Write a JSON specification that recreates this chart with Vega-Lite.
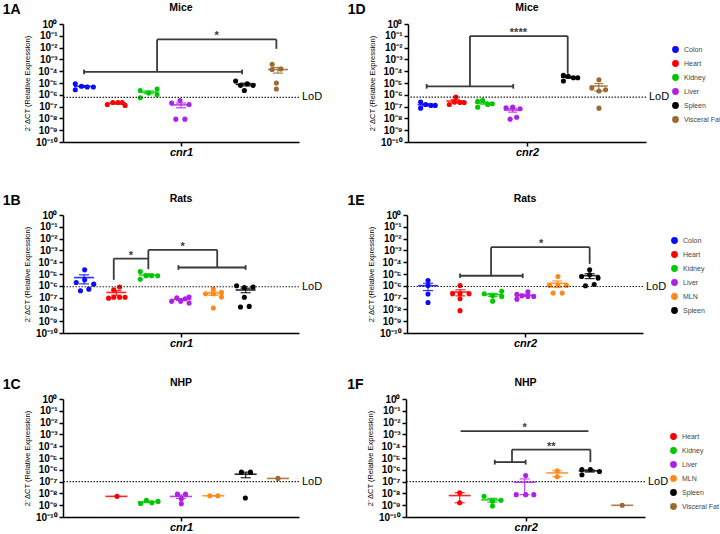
{
"$schema": "https://vega.github.io/schema/vega-lite/v6.json",
"background": "white",
"padding": {"left": 2, "top": 2, "right": 2, "bottom": 2},
"config": {
  "view": {"stroke": null},
  "font": "Liberation Sans",
  "axis": {"grid": false, "domainColor": "#000", "domainWidth": 1.5, "tickColor": "#000", "tickWidth": 1.5, "tickSize": 4, "labelColor": "#000", "labelFont": "Liberation Sans", "labelFontWeight": "bold", "labelFontSize": 10, "titleColor": "#000"},
  "axisX": {"labelPadding": 0},
  "axisY": {"titleFontSize": 7.5},
  "title": {"fontSize": 10.5, "fontWeight": "bold", "font": "Liberation Sans", "color": "#000", "offset": 6},
  "legend": {"labelFont": "Liberation Sans", "labelFontSize": 7, "rowPadding": 1}
},
"datasets": {
  "pts": [
    {"p":"A","t":"Colon","s":1,"x":0.73,"v":8.7e-6},
    {"p":"A","t":"Colon","s":1,"x":0.73,"v":2.7e-6},
    {"p":"A","t":"Colon","s":1,"x":0.92,"v":5.3e-6},
    {"p":"A","t":"Colon","s":1,"x":1.1,"v":4.6e-6},
    {"p":"A","t":"Colon","s":1,"x":1.29,"v":4.6e-6},
    {"p":"A","t":"Heart","s":2,"x":1.72,"v":1.51e-7},
    {"p":"A","t":"Heart","s":2,"x":1.89,"v":2.2e-7},
    {"p":"A","t":"Heart","s":2,"x":2.05,"v":2.2e-7},
    {"p":"A","t":"Heart","s":2,"x":2.18,"v":2.2e-7},
    {"p":"A","t":"Heart","s":2,"x":2.27,"v":1.26e-7},
    {"p":"A","t":"Kidney","s":3,"x":2.74,"v":2.3e-6},
    {"p":"A","t":"Kidney","s":3,"x":2.74,"v":5.6e-7},
    {"p":"A","t":"Kidney","s":3,"x":3.0,"v":1.4e-6},
    {"p":"A","t":"Kidney","s":3,"x":3.26,"v":3.1e-6},
    {"p":"A","t":"Kidney","s":3,"x":3.26,"v":1.07e-6},
    {"p":"A","t":"Liver","s":4,"x":3.71,"v":2.0e-7},
    {"p":"A","t":"Liver","s":4,"x":3.97,"v":3.3e-7},
    {"p":"A","t":"Liver","s":4,"x":4.25,"v":1.51e-7},
    {"p":"A","t":"Liver","s":4,"x":3.84,"v":8.6e-9},
    {"p":"A","t":"Liver","s":4,"x":4.12,"v":8.6e-9},
    {"p":"A","t":"Spleen","s":6,"x":5.69,"v":1.48e-5},
    {"p":"A","t":"Spleen","s":6,"x":5.84,"v":6.3e-6},
    {"p":"A","t":"Spleen","s":6,"x":6.05,"v":8.7e-6},
    {"p":"A","t":"Spleen","s":6,"x":6.23,"v":6.3e-6},
    {"p":"A","t":"Spleen","s":6,"x":5.96,"v":2.3e-6},
    {"p":"A","t":"Visceral Fat","s":7,"x":6.82,"v":3.89e-4},
    {"p":"A","t":"Visceral Fat","s":7,"x":6.82,"v":1.38e-4},
    {"p":"A","t":"Visceral Fat","s":7,"x":7.09,"v":1.55e-4},
    {"p":"A","t":"Visceral Fat","s":7,"x":6.95,"v":1.0e-5},
    {"p":"A","t":"Visceral Fat","s":7,"x":6.95,"v":3.1e-6},

    {"p":"D","t":"Colon","s":1,"x":0.79,"v":2.4e-7},
    {"p":"D","t":"Colon","s":1,"x":0.79,"v":7.4e-8},
    {"p":"D","t":"Colon","s":1,"x":0.97,"v":1.51e-7},
    {"p":"D","t":"Colon","s":1,"x":1.15,"v":1.26e-7},
    {"p":"D","t":"Colon","s":1,"x":1.3,"v":1.26e-7},
    {"p":"D","t":"Heart","s":2,"x":1.79,"v":1.51e-7},
    {"p":"D","t":"Heart","s":2,"x":1.97,"v":2.4e-7},
    {"p":"D","t":"Heart","s":2,"x":2.02,"v":6.5e-7},
    {"p":"D","t":"Heart","s":2,"x":2.16,"v":2.2e-7},
    {"p":"D","t":"Heart","s":2,"x":2.31,"v":2.2e-7},
    {"p":"D","t":"Kidney","s":3,"x":2.78,"v":2.75e-7},
    {"p":"D","t":"Kidney","s":3,"x":2.78,"v":9.0e-8},
    {"p":"D","t":"Kidney","s":3,"x":2.95,"v":3.5e-7},
    {"p":"D","t":"Kidney","s":3,"x":3.13,"v":1.51e-7},
    {"p":"D","t":"Kidney","s":3,"x":3.29,"v":1.74e-7},
    {"p":"D","t":"Liver","s":4,"x":3.77,"v":7.9e-8},
    {"p":"D","t":"Liver","s":4,"x":4.0,"v":9.0e-8},
    {"p":"D","t":"Liver","s":4,"x":4.26,"v":6.5e-8},
    {"p":"D","t":"Liver","s":4,"x":3.91,"v":8.6e-9},
    {"p":"D","t":"Liver","s":4,"x":4.14,"v":1.26e-8},
    {"p":"D","t":"Spleen","s":6,"x":5.77,"v":4.47e-5},
    {"p":"D","t":"Spleen","s":6,"x":5.77,"v":1.48e-5},
    {"p":"D","t":"Spleen","s":6,"x":5.94,"v":3.72e-5},
    {"p":"D","t":"Spleen","s":6,"x":6.12,"v":2.82e-5},
    {"p":"D","t":"Spleen","s":6,"x":6.27,"v":2.82e-5},
    {"p":"D","t":"Visceral Fat","s":7,"x":7.01,"v":1.91e-5},
    {"p":"D","t":"Visceral Fat","s":7,"x":6.76,"v":3.7e-6},
    {"p":"D","t":"Visceral Fat","s":7,"x":7.01,"v":2.1e-6},
    {"p":"D","t":"Visceral Fat","s":7,"x":7.24,"v":2.7e-6},
    {"p":"D","t":"Visceral Fat","s":7,"x":7.01,"v":7.4e-8},

    {"p":"B","t":"Colon","s":1,"x":1.02,"v":2.24e-5},
    {"p":"B","t":"Colon","s":1,"x":0.76,"v":1.9e-6},
    {"p":"B","t":"Colon","s":1,"x":1.02,"v":3.2e-6},
    {"p":"B","t":"Colon","s":1,"x":1.3,"v":1.38e-6},
    {"p":"B","t":"Colon","s":1,"x":0.89,"v":3.8e-7},
    {"p":"B","t":"Colon","s":1,"x":1.15,"v":5.2e-7},
    {"p":"B","t":"Heart","s":2,"x":1.92,"v":4.6e-7},
    {"p":"B","t":"Heart","s":2,"x":2.1,"v":7.8e-7},
    {"p":"B","t":"Heart","s":2,"x":1.76,"v":9.0e-8},
    {"p":"B","t":"Heart","s":2,"x":1.92,"v":1.07e-7},
    {"p":"B","t":"Heart","s":2,"x":2.1,"v":1.07e-7},
    {"p":"B","t":"Heart","s":2,"x":2.27,"v":1.07e-7},
    {"p":"B","t":"Kidney","s":3,"x":2.74,"v":1.62e-5},
    {"p":"B","t":"Kidney","s":3,"x":2.74,"v":3.6e-6},
    {"p":"B","t":"Kidney","s":3,"x":2.92,"v":7.1e-6},
    {"p":"B","t":"Kidney","s":3,"x":3.09,"v":7.1e-6},
    {"p":"B","t":"Kidney","s":3,"x":3.28,"v":7.1e-6},
    {"p":"B","t":"Liver","s":4,"x":3.71,"v":4.8e-8},
    {"p":"B","t":"Liver","s":4,"x":3.87,"v":9.8e-8},
    {"p":"B","t":"Liver","s":4,"x":3.99,"v":4.8e-8},
    {"p":"B","t":"Liver","s":4,"x":4.13,"v":7.9e-8},
    {"p":"B","t":"Liver","s":4,"x":4.25,"v":1.1e-7},
    {"p":"B","t":"Liver","s":4,"x":4.25,"v":3.5e-8},
    {"p":"B","t":"MLN","s":5,"x":5.0,"v":5.2e-7},
    {"p":"B","t":"MLN","s":5,"x":4.76,"v":2.1e-7},
    {"p":"B","t":"MLN","s":5,"x":5.0,"v":2.1e-7},
    {"p":"B","t":"MLN","s":5,"x":5.25,"v":2.75e-7},
    {"p":"B","t":"MLN","s":5,"x":5.25,"v":1.1e-7},
    {"p":"B","t":"MLN","s":5,"x":5.0,"v":1.3e-8},
    {"p":"B","t":"Spleen","s":6,"x":5.72,"v":1.0e-6},
    {"p":"B","t":"Spleen","s":6,"x":5.96,"v":7.2e-7},
    {"p":"B","t":"Spleen","s":6,"x":6.23,"v":7.8e-7},
    {"p":"B","t":"Spleen","s":6,"x":5.96,"v":1.07e-7},
    {"p":"B","t":"Spleen","s":6,"x":5.84,"v":1.6e-8},
    {"p":"B","t":"Spleen","s":6,"x":6.11,"v":1.8e-8},

    {"p":"E","t":"Colon","s":1,"x":1.0,"v":2.8e-6},
    {"p":"E","t":"Colon","s":1,"x":1.0,"v":1.07e-6},
    {"p":"E","t":"Colon","s":1,"x":1.0,"v":2.0e-7},
    {"p":"E","t":"Colon","s":1,"x":1.0,"v":3.9e-8},
    {"p":"E","t":"Heart","s":2,"x":1.99,"v":1.07e-6},
    {"p":"E","t":"Heart","s":2,"x":1.76,"v":2.1e-7},
    {"p":"E","t":"Heart","s":2,"x":1.99,"v":2.1e-7},
    {"p":"E","t":"Heart","s":2,"x":2.27,"v":2.1e-7},
    {"p":"E","t":"Heart","s":2,"x":1.99,"v":7.9e-8},
    {"p":"E","t":"Heart","s":2,"x":1.99,"v":7.8e-9},
    {"p":"E","t":"Kidney","s":3,"x":2.74,"v":2.1e-7},
    {"p":"E","t":"Kidney","s":3,"x":3.0,"v":1.41e-7},
    {"p":"E","t":"Kidney","s":3,"x":3.28,"v":3.5e-7},
    {"p":"E","t":"Kidney","s":3,"x":3.28,"v":1.26e-7},
    {"p":"E","t":"Kidney","s":3,"x":3.0,"v":5.0e-8},
    {"p":"E","t":"Liver","s":4,"x":3.75,"v":1.86e-7},
    {"p":"E","t":"Liver","s":4,"x":3.75,"v":7.4e-8},
    {"p":"E","t":"Liver","s":4,"x":3.9,"v":1.41e-7},
    {"p":"E","t":"Liver","s":4,"x":4.09,"v":3.1e-7},
    {"p":"E","t":"Liver","s":4,"x":4.09,"v":1.26e-7},
    {"p":"E","t":"Liver","s":4,"x":4.27,"v":1.26e-7},
    {"p":"E","t":"MLN","s":5,"x":5.02,"v":6.2e-6},
    {"p":"E","t":"MLN","s":5,"x":4.76,"v":1.07e-6},
    {"p":"E","t":"MLN","s":5,"x":5.02,"v":1.07e-6},
    {"p":"E","t":"MLN","s":5,"x":5.28,"v":1.07e-6},
    {"p":"E","t":"MLN","s":5,"x":4.87,"v":2.4e-7},
    {"p":"E","t":"MLN","s":5,"x":5.15,"v":2.4e-7},
    {"p":"E","t":"Spleen","s":6,"x":6.0,"v":2.24e-5},
    {"p":"E","t":"Spleen","s":6,"x":5.75,"v":6.2e-6},
    {"p":"E","t":"Spleen","s":6,"x":6.0,"v":8.5e-6},
    {"p":"E","t":"Spleen","s":6,"x":6.26,"v":4.5e-6},
    {"p":"E","t":"Spleen","s":6,"x":5.87,"v":1.0e-6},
    {"p":"E","t":"Spleen","s":6,"x":6.14,"v":1.29e-6},

    {"p":"C","t":"Heart","s":2,"x":2.02,"v":5.6e-9},
    {"p":"C","t":"Kidney","s":3,"x":2.75,"v":1.4e-9},
    {"p":"C","t":"Kidney","s":3,"x":2.93,"v":2.6e-9},
    {"p":"C","t":"Kidney","s":3,"x":3.1,"v":1.6e-9},
    {"p":"C","t":"Kidney","s":3,"x":3.29,"v":2.1e-9},
    {"p":"C","t":"Liver","s":4,"x":3.89,"v":8.6e-9},
    {"p":"C","t":"Liver","s":4,"x":4.14,"v":8.6e-9},
    {"p":"C","t":"Liver","s":4,"x":4.01,"v":3.5e-9},
    {"p":"C","t":"Liver","s":4,"x":4.01,"v":1.35e-9},
    {"p":"C","t":"MLN","s":5,"x":4.89,"v":6.3e-9},
    {"p":"C","t":"MLN","s":5,"x":5.14,"v":6.3e-9},
    {"p":"C","t":"Spleen","s":6,"x":5.87,"v":6.3e-7},
    {"p":"C","t":"Spleen","s":6,"x":6.15,"v":6.3e-7},
    {"p":"C","t":"Spleen","s":6,"x":5.99,"v":4.1e-9},
    {"p":"C","t":"Visceral Fat","s":7,"x":7.0,"v":1.86e-7},

    {"p":"F","t":"Heart","s":2,"x":2.0,"v":1.15e-8},
    {"p":"F","t":"Heart","s":2,"x":2.0,"v":1.6e-9},
    {"p":"F","t":"Kidney","s":3,"x":2.75,"v":5.6e-9},
    {"p":"F","t":"Kidney","s":3,"x":3.01,"v":2.2e-9},
    {"p":"F","t":"Kidney","s":3,"x":3.27,"v":2.6e-9},
    {"p":"F","t":"Kidney","s":3,"x":3.01,"v":8.5e-10},
    {"p":"F","t":"Liver","s":4,"x":4.03,"v":3.3e-7},
    {"p":"F","t":"Liver","s":4,"x":3.74,"v":7.8e-9},
    {"p":"F","t":"Liver","s":4,"x":4.03,"v":7.8e-9},
    {"p":"F","t":"Liver","s":4,"x":4.28,"v":7.8e-9},
    {"p":"F","t":"MLN","s":5,"x":5.0,"v":8.3e-7},
    {"p":"F","t":"MLN","s":5,"x":5.0,"v":2.6e-7},
    {"p":"F","t":"Spleen","s":6,"x":5.76,"v":1.07e-6},
    {"p":"F","t":"Spleen","s":6,"x":6.02,"v":1.07e-6},
    {"p":"F","t":"Spleen","s":6,"x":6.3,"v":7.2e-7},
    {"p":"F","t":"Spleen","s":6,"x":5.76,"v":3.8e-7},
    {"p":"F","t":"Visceral Fat","s":7,"x":7.0,"v":9.8e-10}
  ],
  "br": [
    {"p":"A","x":1.0,"x2":5.89,"y":8.7e-5,"y2":8.7e-5},
    {"p":"A","x":1.0,"x2":1.0,"y":1.38e-4,"y2":5.5e-5},
    {"p":"A","x":5.89,"x2":5.89,"y":1.38e-4,"y2":5.5e-5},
    {"p":"A","x":3.26,"x2":3.26,"y":8.7e-5,"y2":4.9e-2},
    {"p":"A","x":3.26,"x2":6.95,"y":4.9e-2,"y2":4.9e-2},
    {"p":"A","x":6.95,"x2":6.95,"y":4.9e-2,"y2":7.9e-3},
    {"p":"D","x":1.0,"x2":4.02,"y":5.2e-6,"y2":5.2e-6},
    {"p":"D","x":1.0,"x2":1.0,"y":8.3e-6,"y2":3.3e-6},
    {"p":"D","x":4.02,"x2":4.02,"y":8.3e-6,"y2":3.3e-6},
    {"p":"D","x":2.51,"x2":2.51,"y":5.2e-6,"y2":9.5e-2},
    {"p":"D","x":2.51,"x2":5.92,"y":9.5e-2,"y2":9.5e-2},
    {"p":"D","x":5.92,"x2":5.92,"y":9.5e-2,"y2":6.3e-5},
    {"p":"B","x":1.92,"x2":1.92,"y":3.2e-6,"y2":2.04e-4},
    {"p":"B","x":1.92,"x2":2.99,"y":2.04e-4,"y2":2.04e-4},
    {"p":"B","x":2.99,"x2":2.99,"y":1.1e-3,"y2":2.57e-5},
    {"p":"B","x":3.92,"x2":6.0,"y":3.55e-5,"y2":3.55e-5},
    {"p":"B","x":3.92,"x2":3.92,"y":5.6e-5,"y2":2.24e-5},
    {"p":"B","x":6.0,"x2":6.0,"y":5.6e-5,"y2":2.24e-5},
    {"p":"B","x":5.12,"x2":5.12,"y":3.55e-5,"y2":1.1e-3},
    {"p":"B","x":2.99,"x2":5.12,"y":1.1e-3,"y2":1.1e-3},
    {"p":"E","x":1.99,"x2":3.93,"y":7.1e-6,"y2":7.1e-6},
    {"p":"E","x":1.99,"x2":1.99,"y":1.12e-5,"y2":4.5e-6},
    {"p":"E","x":3.93,"x2":3.93,"y":1.12e-5,"y2":4.5e-6},
    {"p":"E","x":2.95,"x2":2.95,"y":7.1e-6,"y2":1.86e-3},
    {"p":"E","x":2.95,"x2":6.0,"y":1.86e-3,"y2":1.86e-3},
    {"p":"E","x":6.0,"x2":6.0,"y":1.86e-3,"y2":7.2e-5},
    {"p":"F","x":2.03,"x2":5.96,"y":1.86e-3,"y2":1.86e-3},
    {"p":"F","x":3.08,"x2":4.03,"y":4.5e-6,"y2":4.5e-6},
    {"p":"F","x":3.08,"x2":3.08,"y":7.1e-6,"y2":2.8e-6},
    {"p":"F","x":4.03,"x2":4.03,"y":7.1e-6,"y2":2.8e-6},
    {"p":"F","x":3.61,"x2":3.61,"y":4.5e-6,"y2":5.2e-5},
    {"p":"F","x":3.61,"x2":6.02,"y":5.2e-5,"y2":5.2e-5},
    {"p":"F","x":6.02,"x2":6.02,"y":5.2e-5,"y2":4.5e-6}
  ],
  "st": [
    {"p":"A","x":5.1,"y":4.9e-2,"lab":"*"},
    {"p":"D","x":4.2,"y":9.5e-2,"lab":"****"},
    {"p":"B","x":2.45,"y":2.04e-4,"lab":"*"},
    {"p":"B","x":4.05,"y":1.1e-3,"lab":"*"},
    {"p":"E","x":4.5,"y":1.86e-3,"lab":"*"},
    {"p":"F","x":4.0,"y":1.86e-3,"lab":"*"},
    {"p":"F","x":4.82,"y":5.2e-5,"lab":"**"}
  ],
  "lod": [
    {"p":"A","v":6.0e-7},
    {"p":"D","v":6.4e-7},
    {"p":"B","v":8.3e-7},
    {"p":"E","v":8.7e-7},
    {"p":"C","v":1.0e-7},
    {"p":"F","v":1.0e-7}
  ]
},
"resolve": {"scale": {"color": "independent"}, "legend": {"color": "independent"}},
"spacing": 36,
"vconcat": [
 {"hconcat": [
  {"title": {"text": "1A", "orient": "left", "angle": 0, "anchor": "end", "align": "left", "baseline": "top", "fontSize": 14, "offset": 3},
   "resolve": {"scale": {"color": "independent"}, "legend": {"color": "independent"}},
   "vconcat": [
    {"width": 236, "height": 118, "title": "Mice",
     "layer": [
      {"data": {"name": "pts"}, "transform": [{"filter": "datum.p=='A'"}],
       "mark": {"type": "circle", "size": 26, "opacity": 1},
       "encoding": {
        "x": {"field": "x", "type": "quantitative", "scale": {"domain": [0.35, 7.65], "nice": false, "zero": false},
              "axis": {"values": [4], "labelExpr": "'cnr1'", "title": null, "labelFontStyle": "italic", "labelFontSize": 11}},
        "y": {"field": "v", "type": "quantitative", "scale": {"type": "log", "domain": [1e-10, 1]},
              "axis": {"values": [1e-10,1e-9,1e-8,1e-7,1e-6,1e-5,1e-4,0.001,0.01,0.1,1], "labelOverlap": false,
                       "labelExpr": "'10' + (datum.value < 0.5 ? '⁻' : '') + ['⁰','¹','²','³','⁴','⁵','⁶','⁷','⁸','⁹','¹⁰'][round(-log(datum.value)/LN10)]",
                       "title": "2⁻ΔCT (Relative Expression)", "titleFontWeight": "normal", "titlePadding": 4}},
        "color": {"field": "t", "type": "nominal", "legend": null, "scale": {"domain": ["Colon","Heart","Kidney","Liver","Spleen","Visceral Fat"], "range": ["#0a0aff","#ff0000","#00c800","#b020e8","#000000","#9c6a2e"]}}}},
      {"data": {"name": "lod"}, "transform": [{"filter": "datum.p=='A'"}],
       "mark": {"type": "rule", "strokeDash": [1.5, 1.5], "strokeWidth": 1.2, "color": "#222"},
       "encoding": {"y": {"field": "v", "type": "quantitative", "scale": {"type": "log", "domain": [1e-10, 1]}}}},
      {"data": {"name": "lod"}, "transform": [{"filter": "datum.p=='A'"}],
       "mark": {"type": "text", "align": "left", "baseline": "middle", "dx": 3, "fontSize": 11, "text": "LoD", "color": "#000"},
       "encoding": {"x": {"datum": 7.65, "type": "quantitative", "scale": {"domain": [0.35, 7.65], "nice": false, "zero": false}},
                    "y": {"field": "v", "type": "quantitative", "scale": {"type": "log", "domain": [1e-10, 1]}}}},
      {"data": {"name": "br"}, "transform": [{"filter": "datum.p=='A'"}],
       "mark": {"type": "rule", "color": "#3a3a3a", "strokeWidth": 1.8},
       "encoding": {"x": {"field": "x", "type": "quantitative", "scale": {"domain": [0.35, 7.65], "nice": false, "zero": false}}, "x2": {"field": "x2"},
                    "y": {"field": "y", "type": "quantitative", "scale": {"type": "log", "domain": [1e-10, 1]}}, "y2": {"field": "y2"}}},
      {"data": {"name": "st"}, "transform": [{"filter": "datum.p=='A'"}],
       "mark": {"type": "text", "fontSize": 11, "fontWeight": "bold", "baseline": "alphabetic", "color": "#3a3a3a"},
       "encoding": {"x": {"field": "x", "type": "quantitative", "scale": {"domain": [0.35, 7.65], "nice": false, "zero": false}},
                    "y": {"field": "y", "type": "quantitative", "scale": {"type": "log", "domain": [1e-10, 1]}}, "text": {"field": "lab"}}},
      {"data": {"name": "pts"},
       "transform": [{"filter": "datum.p=='A'"}, {"aggregate": [{"op": "mean", "field": "v", "as": "m"}, {"op": "stderr", "field": "v", "as": "se"}], "groupby": ["t", "s"]},
                     {"calculate": "max(datum.m - datum.se, 1e-10)", "as": "lo"}, {"calculate": "datum.m + datum.se", "as": "hi"}],
       "encoding": {"x": {"field": "s", "type": "quantitative", "scale": {"domain": [0.35, 7.65], "nice": false, "zero": false}},
                    "color": {"field": "t", "type": "nominal", "legend": null, "scale": {"domain": ["Colon","Heart","Kidney","Liver","Spleen","Visceral Fat"], "range": ["#0a0aff","#ff0000","#00c800","#b020e8","#000000","#9c6a2e"]}}},
       "layer": [
        {"transform": [{"filter": "isValid(datum.se) && isFinite(datum.se)"}],
         "mark": {"type": "rule", "strokeWidth": 1.2, "opacity": 0.85},
         "encoding": {"y": {"field": "lo", "type": "quantitative", "scale": {"type": "log", "domain": [1e-10, 1]}}, "y2": {"field": "hi"}}},
        {"transform": [{"filter": "isValid(datum.se) && isFinite(datum.se)"}, {"fold": ["lo", "hi"], "as": ["k", "w"]}],
         "mark": {"type": "tick", "orient": "horizontal", "size": 10, "thickness": 1.2, "opacity": 0.85},
         "encoding": {"y": {"field": "w", "type": "quantitative", "scale": {"type": "log", "domain": [1e-10, 1]}}}},
        {"mark": {"type": "tick", "orient": "horizontal", "size": 20, "thickness": 1.6, "opacity": 0.85},
         "encoding": {"y": {"field": "m", "type": "quantitative", "scale": {"type": "log", "domain": [1e-10, 1]}}}}
       ]}
     ]}
   ]},
  {"title": {"text": "1D", "orient": "left", "angle": 0, "anchor": "end", "align": "left", "baseline": "top", "fontSize": 14, "offset": 3},
   "resolve": {"scale": {"color": "independent"}, "legend": {"color": "independent"}},
   "vconcat": [
    {"width": 238, "height": 118, "title": "Mice",
     "layer": [
      {"data": {"name": "pts"}, "transform": [{"filter": "datum.p=='D'"}],
       "mark": {"type": "circle", "size": 26, "opacity": 1},
       "encoding": {
        "x": {"field": "x", "type": "quantitative", "scale": {"domain": [0.35, 8.65], "nice": false, "zero": false},
              "axis": {"values": [4.5], "labelExpr": "'cnr2'", "title": null, "labelFontStyle": "italic", "labelFontSize": 11}},
        "y": {"field": "v", "type": "quantitative", "scale": {"type": "log", "domain": [1e-10, 1]},
              "axis": {"values": [1e-10,1e-9,1e-8,1e-7,1e-6,1e-5,1e-4,0.001,0.01,0.1,1], "labelOverlap": false,
                       "labelExpr": "'10' + (datum.value < 0.5 ? '⁻' : '') + ['⁰','¹','²','³','⁴','⁵','⁶','⁷','⁸','⁹','¹⁰'][round(-log(datum.value)/LN10)]",
                       "title": "2⁻ΔCT (Relative Expression)", "titleFontWeight": "normal", "titlePadding": 4}},
        "color": {"field": "t", "type": "nominal",
                  "legend": {"orient": "none", "legendX": 264, "legendY": 22, "title": null, "symbolType": "circle", "symbolSize": 28, "labelColor": "#444", "labelFontWeight": "normal", "padding": 0, "labelOffset": 5},
                  "scale": {"domain": ["Colon","Heart","Kidney","Liver","Spleen","Visceral Fat"], "range": ["#0a0aff","#ff0000","#00c800","#b020e8","#000000","#9c6a2e"]}}}},
      {"data": {"name": "lod"}, "transform": [{"filter": "datum.p=='D'"}],
       "mark": {"type": "rule", "strokeDash": [1.5, 1.5], "strokeWidth": 1.2, "color": "#222"},
       "encoding": {"y": {"field": "v", "type": "quantitative", "scale": {"type": "log", "domain": [1e-10, 1]}}}},
      {"data": {"name": "lod"}, "transform": [{"filter": "datum.p=='D'"}],
       "mark": {"type": "text", "align": "left", "baseline": "middle", "dx": 3, "fontSize": 11, "text": "LoD", "color": "#000"},
       "encoding": {"x": {"datum": 8.65, "type": "quantitative", "scale": {"domain": [0.35, 8.65], "nice": false, "zero": false}},
                    "y": {"field": "v", "type": "quantitative", "scale": {"type": "log", "domain": [1e-10, 1]}}}},
      {"data": {"name": "br"}, "transform": [{"filter": "datum.p=='D'"}],
       "mark": {"type": "rule", "color": "#3a3a3a", "strokeWidth": 1.8},
       "encoding": {"x": {"field": "x", "type": "quantitative", "scale": {"domain": [0.35, 8.65], "nice": false, "zero": false}}, "x2": {"field": "x2"},
                    "y": {"field": "y", "type": "quantitative", "scale": {"type": "log", "domain": [1e-10, 1]}}, "y2": {"field": "y2"}}},
      {"data": {"name": "st"}, "transform": [{"filter": "datum.p=='D'"}],
       "mark": {"type": "text", "fontSize": 11, "fontWeight": "bold", "baseline": "alphabetic", "color": "#3a3a3a"},
       "encoding": {"x": {"field": "x", "type": "quantitative", "scale": {"domain": [0.35, 8.65], "nice": false, "zero": false}},
                    "y": {"field": "y", "type": "quantitative", "scale": {"type": "log", "domain": [1e-10, 1]}}, "text": {"field": "lab"}}},
      {"data": {"name": "pts"},
       "transform": [{"filter": "datum.p=='D'"}, {"aggregate": [{"op": "mean", "field": "v", "as": "m"}, {"op": "stderr", "field": "v", "as": "se"}], "groupby": ["t", "s"]},
                     {"calculate": "max(datum.m - datum.se, 1e-10)", "as": "lo"}, {"calculate": "datum.m + datum.se", "as": "hi"}],
       "encoding": {"x": {"field": "s", "type": "quantitative", "scale": {"domain": [0.35, 8.65], "nice": false, "zero": false}},
                    "color": {"field": "t", "type": "nominal", "scale": {"domain": ["Colon","Heart","Kidney","Liver","Spleen","Visceral Fat"], "range": ["#0a0aff","#ff0000","#00c800","#b020e8","#000000","#9c6a2e"]}}},
       "layer": [
        {"transform": [{"filter": "isValid(datum.se) && isFinite(datum.se)"}],
         "mark": {"type": "rule", "strokeWidth": 1.2, "opacity": 0.85},
         "encoding": {"y": {"field": "lo", "type": "quantitative", "scale": {"type": "log", "domain": [1e-10, 1]}}, "y2": {"field": "hi"}}},
        {"transform": [{"filter": "isValid(datum.se) && isFinite(datum.se)"}, {"fold": ["lo", "hi"], "as": ["k", "w"]}],
         "mark": {"type": "tick", "orient": "horizontal", "size": 9, "thickness": 1.2, "opacity": 0.85},
         "encoding": {"y": {"field": "w", "type": "quantitative", "scale": {"type": "log", "domain": [1e-10, 1]}}}},
        {"mark": {"type": "tick", "orient": "horizontal", "size": 18, "thickness": 1.6, "opacity": 0.85},
         "encoding": {"y": {"field": "m", "type": "quantitative", "scale": {"type": "log", "domain": [1e-10, 1]}}}}
       ]}
     ]}
   ]}
 ], "spacing": 24, "resolve": {"scale": {"color": "independent"}, "legend": {"color": "independent"}}},
 {"vconcat": [
  {"hconcat": [
   {"title": {"text": "1B", "orient": "left", "angle": 0, "anchor": "end", "align": "left", "baseline": "top", "fontSize": 14, "offset": 3},
    "resolve": {"scale": {"color": "independent"}, "legend": {"color": "independent"}},
    "vconcat": [
     {"width": 236, "height": 118, "title": "Rats",
      "layer": [
       {"data": {"name": "pts"}, "transform": [{"filter": "datum.p=='B'"}],
        "mark": {"type": "circle", "size": 26, "opacity": 1},
        "encoding": {
         "x": {"field": "x", "type": "quantitative", "scale": {"domain": [0.35, 7.65], "nice": false, "zero": false},
               "axis": {"values": [4], "labelExpr": "'cnr1'", "title": null, "labelFontStyle": "italic", "labelFontSize": 11}},
         "y": {"field": "v", "type": "quantitative", "scale": {"type": "log", "domain": [1e-10, 1]},
               "axis": {"values": [1e-10,1e-9,1e-8,1e-7,1e-6,1e-5,1e-4,0.001,0.01,0.1,1], "labelOverlap": false,
                        "labelExpr": "'10' + (datum.value < 0.5 ? '⁻' : '') + ['⁰','¹','²','³','⁴','⁵','⁶','⁷','⁸','⁹','¹⁰'][round(-log(datum.value)/LN10)]",
                        "title": "2⁻ΔCT (Relative Expression)", "titleFontWeight": "normal", "titlePadding": 4}},
         "color": {"field": "t", "type": "nominal", "legend": null, "scale": {"domain": ["Colon","Heart","Kidney","Liver","MLN","Spleen"], "range": ["#0a0aff","#ff0000","#00c800","#b020e8","#ff8a1a","#000000"]}}}},
       {"data": {"name": "lod"}, "transform": [{"filter": "datum.p=='B'"}],
        "mark": {"type": "rule", "strokeDash": [1.5, 1.5], "strokeWidth": 1.2, "color": "#222"},
        "encoding": {"y": {"field": "v", "type": "quantitative", "scale": {"type": "log", "domain": [1e-10, 1]}}}},
       {"data": {"name": "lod"}, "transform": [{"filter": "datum.p=='B'"}],
        "mark": {"type": "text", "align": "left", "baseline": "middle", "dx": 3, "fontSize": 11, "text": "LoD", "color": "#000"},
        "encoding": {"x": {"datum": 7.65, "type": "quantitative", "scale": {"domain": [0.35, 7.65], "nice": false, "zero": false}},
                     "y": {"field": "v", "type": "quantitative", "scale": {"type": "log", "domain": [1e-10, 1]}}}},
       {"data": {"name": "br"}, "transform": [{"filter": "datum.p=='B'"}],
        "mark": {"type": "rule", "color": "#3a3a3a", "strokeWidth": 1.8},
        "encoding": {"x": {"field": "x", "type": "quantitative", "scale": {"domain": [0.35, 7.65], "nice": false, "zero": false}}, "x2": {"field": "x2"},
                     "y": {"field": "y", "type": "quantitative", "scale": {"type": "log", "domain": [1e-10, 1]}}, "y2": {"field": "y2"}}},
       {"data": {"name": "st"}, "transform": [{"filter": "datum.p=='B'"}],
        "mark": {"type": "text", "fontSize": 11, "fontWeight": "bold", "baseline": "alphabetic", "color": "#3a3a3a"},
        "encoding": {"x": {"field": "x", "type": "quantitative", "scale": {"domain": [0.35, 7.65], "nice": false, "zero": false}},
                     "y": {"field": "y", "type": "quantitative", "scale": {"type": "log", "domain": [1e-10, 1]}}, "text": {"field": "lab"}}},
       {"data": {"name": "pts"},
        "transform": [{"filter": "datum.p=='B'"}, {"aggregate": [{"op": "mean", "field": "v", "as": "m"}, {"op": "stderr", "field": "v", "as": "se"}], "groupby": ["t", "s"]},
                      {"calculate": "max(datum.m - datum.se, 1e-10)", "as": "lo"}, {"calculate": "datum.m + datum.se", "as": "hi"}],
        "encoding": {"x": {"field": "s", "type": "quantitative", "scale": {"domain": [0.35, 7.65], "nice": false, "zero": false}},
                     "color": {"field": "t", "type": "nominal", "legend": null, "scale": {"domain": ["Colon","Heart","Kidney","Liver","MLN","Spleen"], "range": ["#0a0aff","#ff0000","#00c800","#b020e8","#ff8a1a","#000000"]}}},
        "layer": [
         {"transform": [{"filter": "isValid(datum.se) && isFinite(datum.se)"}],
          "mark": {"type": "rule", "strokeWidth": 1.2, "opacity": 0.85},
          "encoding": {"y": {"field": "lo", "type": "quantitative", "scale": {"type": "log", "domain": [1e-10, 1]}}, "y2": {"field": "hi"}}},
         {"transform": [{"filter": "isValid(datum.se) && isFinite(datum.se)"}, {"fold": ["lo", "hi"], "as": ["k", "w"]}],
          "mark": {"type": "tick", "orient": "horizontal", "size": 10, "thickness": 1.2, "opacity": 0.85},
          "encoding": {"y": {"field": "w", "type": "quantitative", "scale": {"type": "log", "domain": [1e-10, 1]}}}},
         {"mark": {"type": "tick", "orient": "horizontal", "size": 20, "thickness": 1.6, "opacity": 0.85},
          "encoding": {"y": {"field": "m", "type": "quantitative", "scale": {"type": "log", "domain": [1e-10, 1]}}}}
        ]}
      ]}
    ]},
   {"title": {"text": "1E", "orient": "left", "angle": 0, "anchor": "end", "align": "left", "baseline": "top", "fontSize": 14, "offset": 3},
    "resolve": {"scale": {"color": "independent"}, "legend": {"color": "independent"}},
    "vconcat": [
     {"width": 236, "height": 118, "title": "Rats",
      "layer": [
       {"data": {"name": "pts"}, "transform": [{"filter": "datum.p=='E'"}],
        "mark": {"type": "circle", "size": 26, "opacity": 1},
        "encoding": {
         "x": {"field": "x", "type": "quantitative", "scale": {"domain": [0.35, 7.65], "nice": false, "zero": false},
               "axis": {"values": [4], "labelExpr": "'cnr2'", "title": null, "labelFontStyle": "italic", "labelFontSize": 11}},
         "y": {"field": "v", "type": "quantitative", "scale": {"type": "log", "domain": [1e-10, 1]},
               "axis": {"values": [1e-10,1e-9,1e-8,1e-7,1e-6,1e-5,1e-4,0.001,0.01,0.1,1], "labelOverlap": false,
                        "labelExpr": "'10' + (datum.value < 0.5 ? '⁻' : '') + ['⁰','¹','²','³','⁴','⁵','⁶','⁷','⁸','⁹','¹⁰'][round(-log(datum.value)/LN10)]",
                        "title": "2⁻ΔCT (Relative Expression)", "titleFontWeight": "normal", "titlePadding": 4}},
         "color": {"field": "t", "type": "nominal",
                   "legend": {"orient": "none", "legendX": 264, "legendY": 22, "title": null, "symbolType": "circle", "symbolSize": 28, "labelColor": "#444", "labelFontWeight": "normal", "padding": 0, "labelOffset": 5},
                   "scale": {"domain": ["Colon","Heart","Kidney","Liver","MLN","Spleen"], "range": ["#0a0aff","#ff0000","#00c800","#b020e8","#ff8a1a","#000000"]}}}},
       {"data": {"name": "lod"}, "transform": [{"filter": "datum.p=='E'"}],
        "mark": {"type": "rule", "strokeDash": [1.5, 1.5], "strokeWidth": 1.2, "color": "#222"},
        "encoding": {"y": {"field": "v", "type": "quantitative", "scale": {"type": "log", "domain": [1e-10, 1]}}}},
       {"data": {"name": "lod"}, "transform": [{"filter": "datum.p=='E'"}],
        "mark": {"type": "text", "align": "left", "baseline": "middle", "dx": 3, "fontSize": 11, "text": "LoD", "color": "#000"},
        "encoding": {"x": {"datum": 7.65, "type": "quantitative", "scale": {"domain": [0.35, 7.65], "nice": false, "zero": false}},
                     "y": {"field": "v", "type": "quantitative", "scale": {"type": "log", "domain": [1e-10, 1]}}}},
       {"data": {"name": "br"}, "transform": [{"filter": "datum.p=='E'"}],
        "mark": {"type": "rule", "color": "#3a3a3a", "strokeWidth": 1.8},
        "encoding": {"x": {"field": "x", "type": "quantitative", "scale": {"domain": [0.35, 7.65], "nice": false, "zero": false}}, "x2": {"field": "x2"},
                     "y": {"field": "y", "type": "quantitative", "scale": {"type": "log", "domain": [1e-10, 1]}}, "y2": {"field": "y2"}}},
       {"data": {"name": "st"}, "transform": [{"filter": "datum.p=='E'"}],
        "mark": {"type": "text", "fontSize": 11, "fontWeight": "bold", "baseline": "alphabetic", "color": "#3a3a3a"},
        "encoding": {"x": {"field": "x", "type": "quantitative", "scale": {"domain": [0.35, 7.65], "nice": false, "zero": false}},
                     "y": {"field": "y", "type": "quantitative", "scale": {"type": "log", "domain": [1e-10, 1]}}, "text": {"field": "lab"}}},
       {"data": {"name": "pts"},
        "transform": [{"filter": "datum.p=='E'"}, {"aggregate": [{"op": "mean", "field": "v", "as": "m"}, {"op": "stderr", "field": "v", "as": "se"}], "groupby": ["t", "s"]},
                      {"calculate": "max(datum.m - datum.se, 1e-10)", "as": "lo"}, {"calculate": "datum.m + datum.se", "as": "hi"}],
        "encoding": {"x": {"field": "s", "type": "quantitative", "scale": {"domain": [0.35, 7.65], "nice": false, "zero": false}},
                     "color": {"field": "t", "type": "nominal", "scale": {"domain": ["Colon","Heart","Kidney","Liver","MLN","Spleen"], "range": ["#0a0aff","#ff0000","#00c800","#b020e8","#ff8a1a","#000000"]}}},
        "layer": [
         {"transform": [{"filter": "isValid(datum.se) && isFinite(datum.se)"}],
          "mark": {"type": "rule", "strokeWidth": 1.2, "opacity": 0.85},
          "encoding": {"y": {"field": "lo", "type": "quantitative", "scale": {"type": "log", "domain": [1e-10, 1]}}, "y2": {"field": "hi"}}},
         {"transform": [{"filter": "isValid(datum.se) && isFinite(datum.se)"}, {"fold": ["lo", "hi"], "as": ["k", "w"]}],
          "mark": {"type": "tick", "orient": "horizontal", "size": 10, "thickness": 1.2, "opacity": 0.85},
          "encoding": {"y": {"field": "w", "type": "quantitative", "scale": {"type": "log", "domain": [1e-10, 1]}}}},
         {"mark": {"type": "tick", "orient": "horizontal", "size": 20, "thickness": 1.6, "opacity": 0.85},
          "encoding": {"y": {"field": "m", "type": "quantitative", "scale": {"type": "log", "domain": [1e-10, 1]}}}}
        ]}
      ]}
    ]}
  ], "spacing": 24, "resolve": {"scale": {"color": "independent"}, "legend": {"color": "independent"}}},
  {"hconcat": [
   {"title": {"text": "1C", "orient": "left", "angle": 0, "anchor": "end", "align": "left", "baseline": "top", "fontSize": 14, "offset": 3},
    "resolve": {"scale": {"color": "independent"}, "legend": {"color": "independent"}},
    "vconcat": [
     {"width": 236, "height": 118, "title": "NHP",
      "layer": [
       {"data": {"name": "pts"}, "transform": [{"filter": "datum.p=='C'"}],
        "mark": {"type": "circle", "size": 26, "opacity": 1},
        "encoding": {
         "x": {"field": "x", "type": "quantitative", "scale": {"domain": [0.35, 7.65], "nice": false, "zero": false},
               "axis": {"values": [4], "labelExpr": "'cnr1'", "title": null, "labelFontStyle": "italic", "labelFontSize": 11}},
         "y": {"field": "v", "type": "quantitative", "scale": {"type": "log", "domain": [1e-10, 1]},
               "axis": {"values": [1e-10,1e-9,1e-8,1e-7,1e-6,1e-5,1e-4,0.001,0.01,0.1,1], "labelOverlap": false,
                        "labelExpr": "'10' + (datum.value < 0.5 ? '⁻' : '') + ['⁰','¹','²','³','⁴','⁵','⁶','⁷','⁸','⁹','¹⁰'][round(-log(datum.value)/LN10)]",
                        "title": "2⁻ΔCT (Relative Expression)", "titleFontWeight": "normal", "titlePadding": 4}},
         "color": {"field": "t", "type": "nominal", "legend": null, "scale": {"domain": ["Heart","Kidney","Liver","MLN","Spleen","Visceral Fat"], "range": ["#ff0000","#00c800","#b020e8","#ff8a1a","#000000","#9c6a2e"]}}}},
       {"data": {"name": "lod"}, "transform": [{"filter": "datum.p=='C'"}],
        "mark": {"type": "rule", "strokeDash": [1.5, 1.5], "strokeWidth": 1.2, "color": "#222"},
        "encoding": {"y": {"field": "v", "type": "quantitative", "scale": {"type": "log", "domain": [1e-10, 1]}}}},
       {"data": {"name": "lod"}, "transform": [{"filter": "datum.p=='C'"}],
        "mark": {"type": "text", "align": "left", "baseline": "middle", "dx": 3, "fontSize": 11, "text": "LoD", "color": "#000"},
        "encoding": {"x": {"datum": 7.65, "type": "quantitative", "scale": {"domain": [0.35, 7.65], "nice": false, "zero": false}},
                     "y": {"field": "v", "type": "quantitative", "scale": {"type": "log", "domain": [1e-10, 1]}}}},
       {"data": {"name": "pts"},
        "transform": [{"filter": "datum.p=='C'"}, {"aggregate": [{"op": "mean", "field": "v", "as": "m"}, {"op": "stderr", "field": "v", "as": "se"}], "groupby": ["t", "s"]},
                      {"calculate": "max(datum.m - datum.se, 1e-10)", "as": "lo"}, {"calculate": "datum.m + datum.se", "as": "hi"}],
        "encoding": {"x": {"field": "s", "type": "quantitative", "scale": {"domain": [0.35, 7.65], "nice": false, "zero": false}},
                     "color": {"field": "t", "type": "nominal", "legend": null, "scale": {"domain": ["Heart","Kidney","Liver","MLN","Spleen","Visceral Fat"], "range": ["#ff0000","#00c800","#b020e8","#ff8a1a","#000000","#9c6a2e"]}}},
        "layer": [
         {"transform": [{"filter": "isValid(datum.se) && isFinite(datum.se)"}],
          "mark": {"type": "rule", "strokeWidth": 1.2, "opacity": 0.85},
          "encoding": {"y": {"field": "lo", "type": "quantitative", "scale": {"type": "log", "domain": [1e-10, 1]}}, "y2": {"field": "hi"}}},
         {"transform": [{"filter": "isValid(datum.se) && isFinite(datum.se)"}, {"fold": ["lo", "hi"], "as": ["k", "w"]}],
          "mark": {"type": "tick", "orient": "horizontal", "size": 10, "thickness": 1.2, "opacity": 0.85},
          "encoding": {"y": {"field": "w", "type": "quantitative", "scale": {"type": "log", "domain": [1e-10, 1]}}}},
         {"mark": {"type": "tick", "orient": "horizontal", "size": 22, "thickness": 1.6, "opacity": 0.85},
          "encoding": {"y": {"field": "m", "type": "quantitative", "scale": {"type": "log", "domain": [1e-10, 1]}}}}
        ]}
      ]}
    ]},
   {"title": {"text": "1F", "orient": "left", "angle": 0, "anchor": "end", "align": "left", "baseline": "top", "fontSize": 14, "offset": 3},
    "resolve": {"scale": {"color": "independent"}, "legend": {"color": "independent"}},
    "vconcat": [
     {"width": 239, "height": 118, "title": "NHP",
      "layer": [
       {"data": {"name": "pts"}, "transform": [{"filter": "datum.p=='F'"}],
        "mark": {"type": "circle", "size": 26, "opacity": 1},
        "encoding": {
         "x": {"field": "x", "type": "quantitative", "scale": {"domain": [0.35, 7.7], "nice": false, "zero": false},
               "axis": {"values": [4.03], "labelExpr": "'cnr2'", "title": null, "labelFontStyle": "italic", "labelFontSize": 11}},
         "y": {"field": "v", "type": "quantitative", "scale": {"type": "log", "domain": [1e-10, 1]},
               "axis": {"values": [1e-10,1e-9,1e-8,1e-7,1e-6,1e-5,1e-4,0.001,0.01,0.1,1], "labelOverlap": false,
                        "labelExpr": "'10' + (datum.value < 0.5 ? '⁻' : '') + ['⁰','¹','²','³','⁴','⁵','⁶','⁷','⁸','⁹','¹⁰'][round(-log(datum.value)/LN10)]",
                        "title": "2⁻ΔCT (Relative Expression)", "titleFontWeight": "normal", "titlePadding": 4}},
         "color": {"field": "t", "type": "nominal",
                   "legend": {"orient": "none", "legendX": 264, "legendY": 34, "title": null, "symbolType": "circle", "symbolSize": 28, "labelColor": "#444", "labelFontWeight": "normal", "padding": 0, "labelOffset": 5},
                   "scale": {"domain": ["Heart","Kidney","Liver","MLN","Spleen","Visceral Fat"], "range": ["#ff0000","#00c800","#b020e8","#ff8a1a","#000000","#9c6a2e"]}}}},
       {"data": {"name": "lod"}, "transform": [{"filter": "datum.p=='F'"}],
        "mark": {"type": "rule", "strokeDash": [1.5, 1.5], "strokeWidth": 1.2, "color": "#222"},
        "encoding": {"y": {"field": "v", "type": "quantitative", "scale": {"type": "log", "domain": [1e-10, 1]}}}},
       {"data": {"name": "lod"}, "transform": [{"filter": "datum.p=='F'"}],
        "mark": {"type": "text", "align": "left", "baseline": "middle", "dx": 3, "fontSize": 11, "text": "LoD", "color": "#000"},
        "encoding": {"x": {"datum": 7.7, "type": "quantitative", "scale": {"domain": [0.35, 7.7], "nice": false, "zero": false}},
                     "y": {"field": "v", "type": "quantitative", "scale": {"type": "log", "domain": [1e-10, 1]}}}},
       {"data": {"name": "br"}, "transform": [{"filter": "datum.p=='F'"}],
        "mark": {"type": "rule", "color": "#3a3a3a", "strokeWidth": 1.8},
        "encoding": {"x": {"field": "x", "type": "quantitative", "scale": {"domain": [0.35, 7.7], "nice": false, "zero": false}}, "x2": {"field": "x2"},
                     "y": {"field": "y", "type": "quantitative", "scale": {"type": "log", "domain": [1e-10, 1]}}, "y2": {"field": "y2"}}},
       {"data": {"name": "st"}, "transform": [{"filter": "datum.p=='F'"}],
        "mark": {"type": "text", "fontSize": 11, "fontWeight": "bold", "baseline": "alphabetic", "color": "#3a3a3a"},
        "encoding": {"x": {"field": "x", "type": "quantitative", "scale": {"domain": [0.35, 7.7], "nice": false, "zero": false}},
                     "y": {"field": "y", "type": "quantitative", "scale": {"type": "log", "domain": [1e-10, 1]}}, "text": {"field": "lab"}}},
       {"data": {"name": "pts"},
        "transform": [{"filter": "datum.p=='F'"}, {"aggregate": [{"op": "mean", "field": "v", "as": "m"}, {"op": "stderr", "field": "v", "as": "se"}], "groupby": ["t", "s"]},
                      {"calculate": "max(datum.m - datum.se, 1e-10)", "as": "lo"}, {"calculate": "datum.m + datum.se", "as": "hi"}],
        "encoding": {"x": {"field": "s", "type": "quantitative", "scale": {"domain": [0.35, 7.7], "nice": false, "zero": false}},
                     "color": {"field": "t", "type": "nominal", "scale": {"domain": ["Heart","Kidney","Liver","MLN","Spleen","Visceral Fat"], "range": ["#ff0000","#00c800","#b020e8","#ff8a1a","#000000","#9c6a2e"]}}},
        "layer": [
         {"transform": [{"filter": "isValid(datum.se) && isFinite(datum.se)"}],
          "mark": {"type": "rule", "strokeWidth": 1.2, "opacity": 0.85},
          "encoding": {"y": {"field": "lo", "type": "quantitative", "scale": {"type": "log", "domain": [1e-10, 1]}}, "y2": {"field": "hi"}}},
         {"transform": [{"filter": "isValid(datum.se) && isFinite(datum.se)"}, {"fold": ["lo", "hi"], "as": ["k", "w"]}],
          "mark": {"type": "tick", "orient": "horizontal", "size": 10, "thickness": 1.2, "opacity": 0.85},
          "encoding": {"y": {"field": "w", "type": "quantitative", "scale": {"type": "log", "domain": [1e-10, 1]}}}},
         {"mark": {"type": "tick", "orient": "horizontal", "size": 22, "thickness": 1.6, "opacity": 0.85},
          "encoding": {"y": {"field": "m", "type": "quantitative", "scale": {"type": "log", "domain": [1e-10, 1]}}}}
        ]}
      ]}
    ]}
  ], "spacing": 24, "resolve": {"scale": {"color": "independent"}, "legend": {"color": "independent"}}}
 ], "spacing": 29, "resolve": {"scale": {"color": "independent"}, "legend": {"color": "independent"}}}
]
}
